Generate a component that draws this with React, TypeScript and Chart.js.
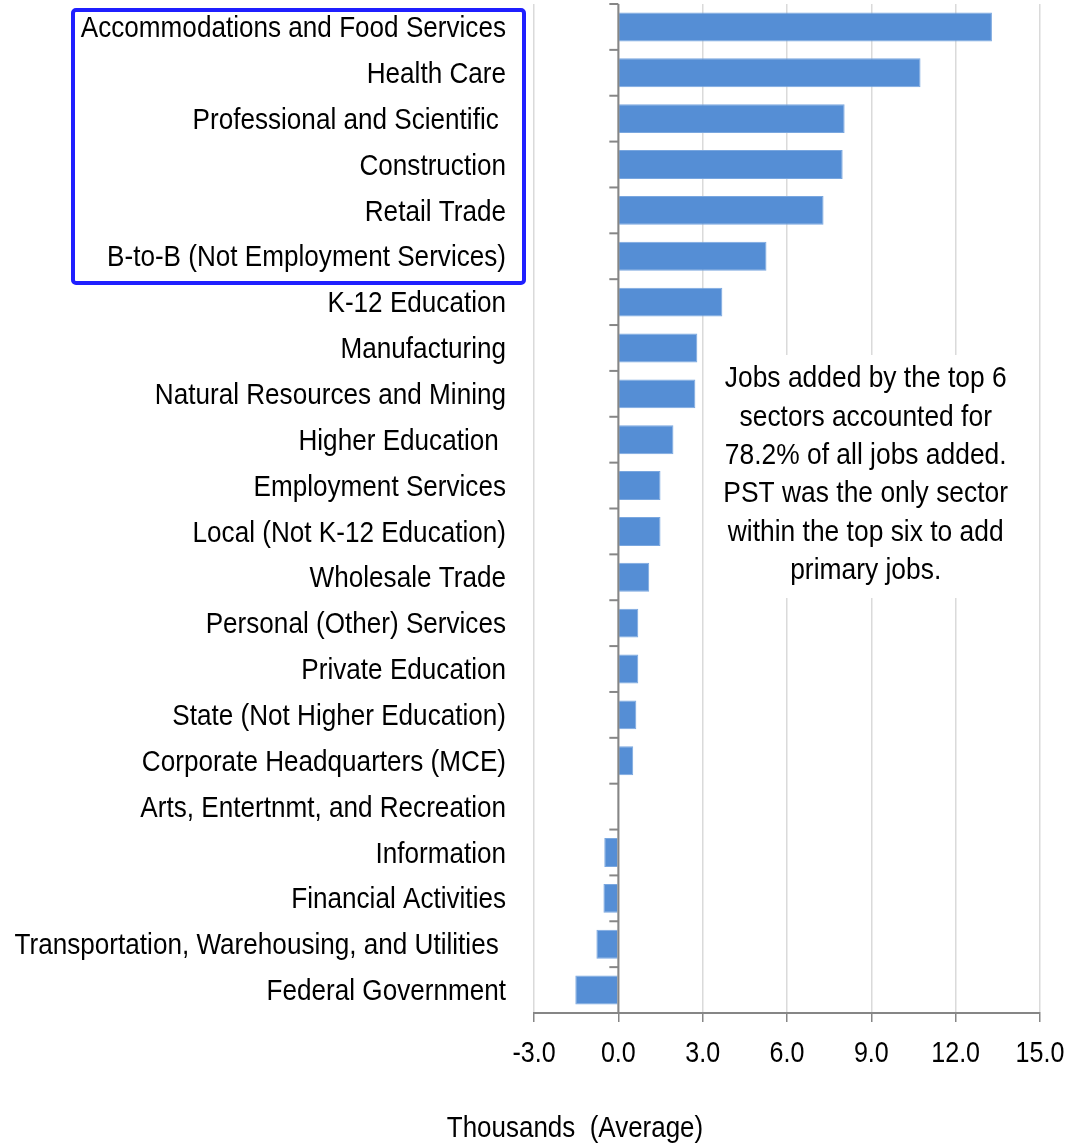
import React, { useEffect, useRef } from "react";
import { Chart, registerables } from "chart.js";

Chart.register(...registerables);

const categories = [
  "Accommodations and Food Services",
  "Health Care",
  "Professional and Scientific ",
  "Construction",
  "Retail Trade",
  "B-to-B (Not Employment Services)",
  "K-12 Education",
  "Manufacturing",
  "Natural Resources and Mining",
  "Higher Education ",
  "Employment Services",
  "Local (Not K-12 Education)",
  "Wholesale Trade",
  "Personal (Other) Services",
  "Private Education",
  "State (Not Higher Education)",
  "Corporate Headquarters (MCE)",
  "Arts, Entertnmt, and Recreation",
  "Information",
  "Financial Activities",
  "Transportation, Warehousing, and Utilities ",
  "Federal Government",
];

const values = [
  13.29, 10.75, 8.05, 7.98, 7.3, 5.27, 3.7, 2.81, 2.74, 1.96, 1.5, 1.5, 1.1,
  0.71, 0.71, 0.64, 0.53, 0.0, -0.5, -0.53, -0.78, -1.53,
];

const xTicks = [-3, 0, 3, 6, 9, 12, 15];
const axisTitle = "Thousands  (Average)";
const annotationLines = [
  "Jobs added by the top 6",
  "sectors accounted for",
  "78.2% of all jobs added.",
  "PST was the only sector",
  "within the top six to add",
  "primary jobs.",
];

const FONT = "'Liberation Sans', Arial, sans-serif";
const AXIS_GRAY = "#868686";

function narrowText(
  ctx: CanvasRenderingContext2D,
  text: string,
  x: number,
  y: number,
  align: CanvasTextAlign,
  size: number,
  squeeze: number
) {
  ctx.save();
  ctx.translate(x, y);
  ctx.scale(squeeze, 1);
  ctx.font = `${size}px ${FONT}`;
  ctx.textAlign = align;
  ctx.textBaseline = "middle";
  ctx.fillStyle = "#000000";
  ctx.fillText(text, 0, 0);
  ctx.restore();
}

const overlayPlugin = {
  id: "overlay",
  afterDatasetsDraw(chart: any) {
    const { ctx, chartArea, scales } = chart;
    const x = scales.x;
    const y = scales.y;
    ctx.save();
    // zero axis line
    const x0 = x.getPixelForValue(0);
    ctx.strokeStyle = AXIS_GRAY;
    ctx.lineWidth = 2;
    ctx.beginPath();
    ctx.moveTo(x0, chartArea.top);
    ctx.lineTo(x0, chartArea.bottom);
    ctx.stroke();
    // category boundary tick marks
    const n = categories.length;
    const step = (chartArea.bottom - chartArea.top) / n;
    for (let i = 0; i <= n; i++) {
      const yy = chartArea.top + i * step;
      ctx.beginPath();
      ctx.moveTo(x0 - 9, yy);
      ctx.lineTo(x0, yy);
      ctx.stroke();
    }
    // category labels
    categories.forEach((label, i) => {
      narrowText(ctx, label, chartArea.left - 28, y.getPixelForTick(i) + 2, "right", 29.5, 0.885);
    });
    // x tick labels
    xTicks.forEach((v) => {
      narrowText(ctx, v.toFixed(1), x.getPixelForValue(v), chartArea.bottom + 41, "center", 29.5, 0.85);
    });
    // annotation box
    const cx = x.getPixelForValue(8.8);
    const left = x.getPixelForValue(3.35);
    const right = x.getPixelForValue(14.3);
    ctx.fillStyle = "#ffffff";
    ctx.fillRect(left, 355, right - left, 243);
    annotationLines.forEach((line, i) => {
      narrowText(ctx, line, cx, 379 + i * 38.4, "center", 29.5, 0.895);
    });
    // highlight box around top six labels
    ctx.strokeStyle = "#1f1fff";
    ctx.lineWidth = 4;
    ctx.beginPath();
    if ((ctx as any).roundRect) {
      (ctx as any).roundRect(73, 10, 451, 273, 3);
    } else {
      ctx.rect(73, 10, 451, 273);
    }
    ctx.stroke();
    // axis title
    narrowText(ctx, axisTitle, 575, 1129, "center", 29.5, 0.88);
    ctx.restore();
  },
};

export default function App() {
  const canvasRef = useRef<HTMLCanvasElement | null>(null);

  useEffect(() => {
    if (!canvasRef.current) return;
    const chart = new Chart(canvasRef.current, {
      type: "bar",
      data: {
        labels: categories,
        datasets: [
          {
            data: values,
            backgroundColor: "#558ED5",
            borderColor: "#7aa7df",
            borderWidth: 1,
            barPercentage: 0.63,
            categoryPercentage: 1,
          },
        ],
      },
      options: {
        indexAxis: "y",
        responsive: false,
        animation: false,
        layout: { padding: { top: 4, right: 42, bottom: 0, left: 0 } },
        plugins: {
          legend: { display: false },
          tooltip: { enabled: false },
          title: { display: false },
        },
        scales: {
          x: {
            type: "linear",
            min: -3,
            max: 15,
            afterBuildTicks: (scale: any) => {
              scale.ticks = xTicks.map((v) => ({ value: v }));
            },
            ticks: { display: false },
            grid: {
              color: "#dadada",
              lineWidth: 1.5,
              tickColor: AXIS_GRAY,
              tickLength: 9,
              drawTicks: true,
            },
            border: { display: true, color: AXIS_GRAY, width: 2 },
            afterFit: (s: any) => {
              s.height = 132;
            },
          },
          y: {
            type: "category",
            ticks: { display: false },
            grid: { display: false, drawTicks: false },
            border: { display: false },
            afterFit: (s: any) => {
              s.width = 534;
            },
          },
        },
      } as any,
      plugins: [overlayPlugin],
    });
    return () => chart.destroy();
  }, []);

  return (
    <div style={{ position: "absolute", left: 0, top: 0, width: 1082, height: 1145, background: "#fff" }}>
      <canvas ref={canvasRef} width={1082} height={1145} />
    </div>
  );
}
